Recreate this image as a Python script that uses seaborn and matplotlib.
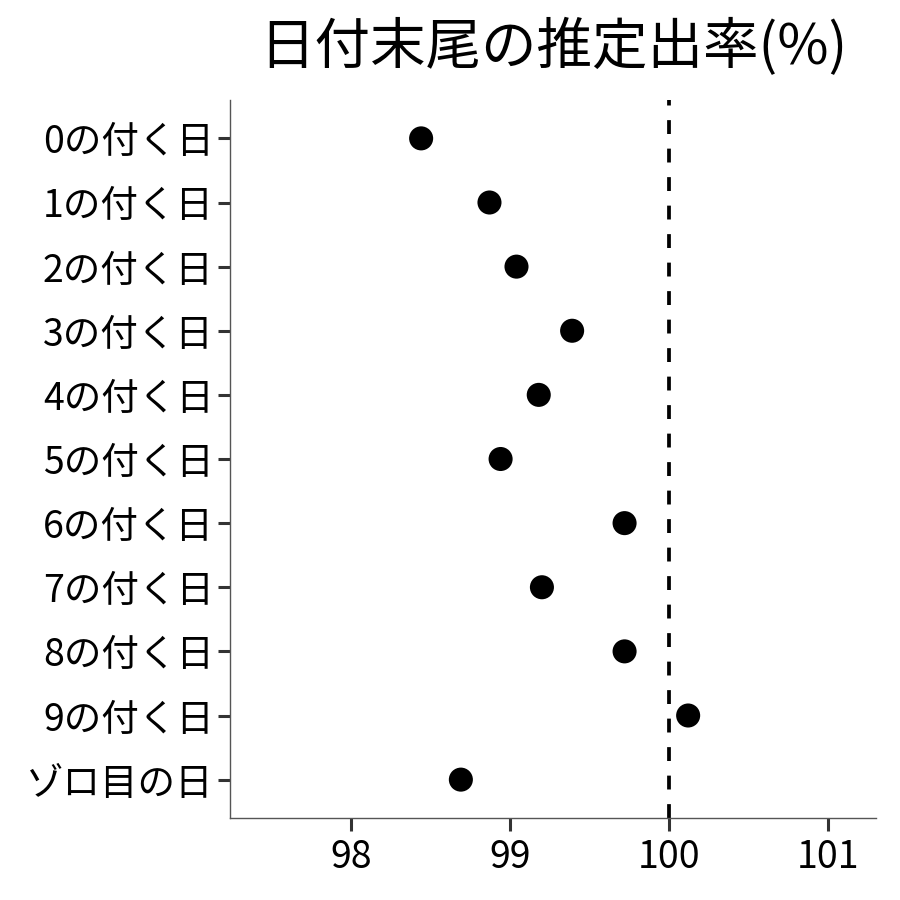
import matplotlib
matplotlib.use('Agg')
import matplotlib.pyplot as plt
import seaborn as sns
import pandas as pd

# データ
labels = ['0の付く日', '1の付く日', '2の付く日', '3の付く日', '4の付く日',
          '5の付く日', '6の付く日', '7の付く日', '8の付く日', '9の付く日',
          'ゾロ目の日']
rates = [98.44, 98.87, 99.04, 99.39, 99.18, 98.94, 99.72, 99.20, 99.72,
         100.12, 98.69]
x_ticks = [98, 99, 100, 101]

df = pd.DataFrame({'label': labels, 'rate': rates})

sns.set_style('white')
plt.rcParams['font.family'] = ['Noto Sans CJK JP', 'DejaVu Sans']

fig, ax = plt.subplots(figsize=(9, 9), dpi=100)
fig.subplots_adjust(left=0.256, right=0.973, top=0.889, bottom=0.091)

sns.scatterplot(data=df, x='rate', y='label', color='black', s=300,
                edgecolor='none', ax=ax, zorder=3)
ax.axvline(100, color='black', linestyle=(0, (3.7, 3.9)), linewidth=2.7,
           zorder=2)

ax.set_xlim(97.24, 101.3)
ax.set_ylim(len(labels) - 0.4, -0.6)
ax.set_xticks(x_ticks)
ax.set_xticklabels([str(v) for v in x_ticks])
ax.set_xlabel('')
ax.set_ylabel('')

for side in ['top', 'right']:
    ax.spines[side].set_visible(False)
for side in ['left', 'bottom']:
    ax.spines[side].set_color('#555555')
    ax.spines[side].set_linewidth(1.0)

ax.tick_params(axis='both', which='major', direction='out', length=9,
               width=2.2, color='#333333', labelsize=27, labelcolor='black',
               bottom=True, left=True)
ax.tick_params(axis='y', pad=3)
ax.tick_params(axis='x', pad=5)

ax.set_title('日付末尾の推定出率(%)', fontsize=40, pad=26, color='black')

fig.savefig('out.png', dpi=100)
